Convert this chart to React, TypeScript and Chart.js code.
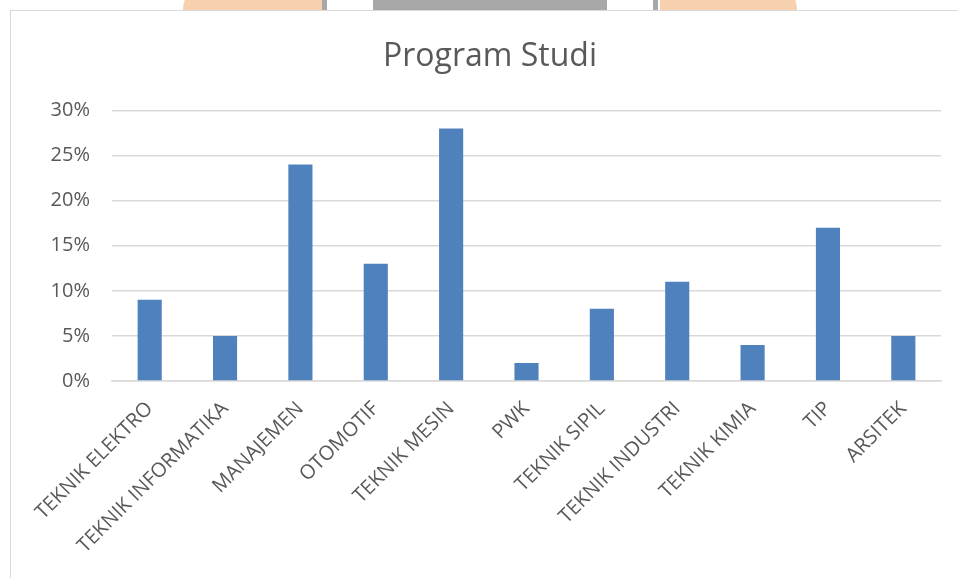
import React, { useEffect, useRef } from "react";
import { Chart, registerables } from "chart.js";

Chart.register(...registerables);

const categories = [
  "TEKNIK ELEKTRO",
  "TEKNIK INFORMATIKA",
  "MANAJEMEN",
  "OTOMOTIF",
  "TEKNIK MESIN",
  "PWK",
  "TEKNIK SIPIL",
  "TEKNIK INDUSTRI",
  "TEKNIK KIMIA",
  "TIP",
  "ARSITEK",
];
const values = [0.09, 0.05, 0.24, 0.13, 0.28, 0.02, 0.08, 0.11, 0.04, 0.17, 0.05];
const title = "Program Studi";

export default function App() {
  const ref = useRef<HTMLCanvasElement>(null);
  useEffect(() => {
    if (!ref.current) return;
    const font = "'Open Sans', sans-serif";
    const chart = new Chart(ref.current, {
      type: "bar",
      data: {
        labels: categories,
        datasets: [
          {
            data: values,
            backgroundColor: "#4f81bd",
            borderWidth: 0,
            barPercentage: 0.32,
            categoryPercentage: 1,
          },
        ],
      },
      options: {
        animation: false,
        responsive: false,
        maintainAspectRatio: false,
        layout: { padding: 0 },
        plugins: {
          legend: { display: false },
          tooltip: { enabled: false },
          title: {
            display: true,
            text: title,
            color: "#595959",
            font: { family: font, size: 32, weight: "normal" },
            padding: { top: 27, bottom: 34 },
          },
        },
        scales: {
          x: {
            grid: { display: false, drawTicks: false },
            border: { display: true, color: "#d9d9d9", width: 1.5 },
            ticks: {
              color: "#595959",
              font: { family: font, size: 20 },
              minRotation: 45,
              maxRotation: 45,
              autoSkip: false,
              padding: 16,
            },
            afterFit: (s: any) => {
              s.height = 198;
            },
          },
          y: {
            min: 0,
            max: 0.3,
            grid: { color: "#d9d9d9", lineWidth: 1.5, drawTicks: false },
            border: { display: false },
            ticks: {
              stepSize: 0.05,
              color: "#595959",
              font: { family: font, size: 20 },
              padding: 22,
              callback: (v: any) => Math.round(Number(v) * 100) + "%",
            },
            afterFit: (s: any) => {
              s.width = 101;
            },
          },
          yRight: {
            position: "right",
            display: true,
            grid: { display: false, drawTicks: false },
            border: { display: false },
            ticks: { display: false },
            afterFit: (s: any) => {
              s.width = 28;
            },
          },
        },
      },
    });
    return () => chart.destroy();
  }, []);

  const peach = "#f7d0ad";
  const gray = "#a8a8a8";
  return (
    <div
      style={{
        position: "fixed",
        left: 0,
        top: 0,
        width: 958,
        height: 578,
        overflow: "hidden",
        background: "#ffffff",
      }}
    >
      <div style={{ position: "absolute", left: 183, top: -20, width: 139, height: 30, background: peach, borderTopLeftRadius: 40 }} />
      <div style={{ position: "absolute", left: 322, top: 0, width: 5, height: 10, background: gray }} />
      <div style={{ position: "absolute", left: 373, top: 0, width: 234, height: 10, background: gray }} />
      <div style={{ position: "absolute", left: 653, top: 0, width: 5, height: 10, background: gray }} />
      <div style={{ position: "absolute", left: 660, top: -20, width: 137, height: 30, background: peach, borderTopRightRadius: 40 }} />
      <div
        style={{
          position: "absolute",
          left: 10,
          top: 10,
          width: 960,
          height: 580,
          borderLeft: "1px solid #d9d9d9",
          borderTop: "1px solid #d9d9d9",
          background: "#ffffff",
        }}
      >
        <canvas ref={ref} width={958} height={568} style={{ display: "block" }} />
      </div>
    </div>
  );
}
